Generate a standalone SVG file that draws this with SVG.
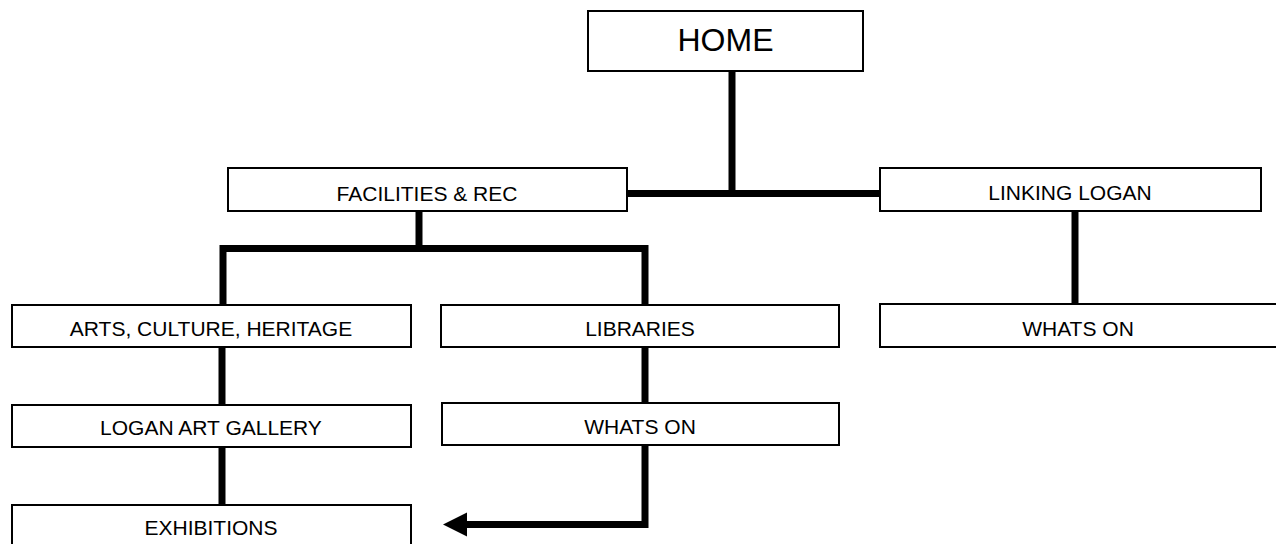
<svg xmlns="http://www.w3.org/2000/svg" width="1276" height="544" viewBox="0 0 1276 544">
<style>
.box{fill:#fff;stroke:#000;stroke-width:2}
.t{font-family:"Liberation Sans",Arial,sans-serif;font-size:21px;fill:#000;text-anchor:middle}
.big{font-size:32px}
.c{fill:none;stroke:#000;stroke-width:7;stroke-linejoin:miter}
</style>
<rect width="1276" height="544" fill="#fff"/>
<g id="connectors">
<path class="c" d="M732,71 V193.5"/>
<path class="c" d="M627,193.5 H880"/>
<path class="c" d="M419,211 V248.5"/>
<path class="c" d="M223,305 V248.5 H645 V305"/>
<path class="c" d="M1075,211 V305"/>
<path class="c" d="M222,347 V405"/>
<path class="c" d="M222,447 V505"/>
<path class="c" d="M645,347 V403"/>
<path class="c" d="M645,445 V524.5 H465"/>
<polygon points="443,524.5 467,512.5 467,536.5" fill="#000"/>
</g>
<g id="home"><rect class="box" x="588" y="11" width="275" height="60"/><text class="t big" x="725.5" y="51">HOME</text></g>
<g id="facilities"><rect class="box" x="228" y="168" width="399" height="43"/><text class="t" x="427" y="201">FACILITIES &amp; REC</text></g>
<g id="linking"><rect class="box" x="880" y="168" width="381" height="43"/><text class="t" x="1070" y="200">LINKING LOGAN</text></g>
<g id="arts"><rect class="box" x="12" y="305" width="399" height="42"/><text class="t" x="211" y="336">ARTS, CULTURE, HERITAGE</text></g>
<g id="libraries"><rect class="box" x="441" y="305" width="398" height="42"/><text class="t" x="640" y="336">LIBRARIES</text></g>
<g id="whatson-right"><rect class="box" x="880" y="304" width="400" height="43"/><text class="t" x="1078" y="336">WHATS ON</text></g>
<g id="gallery"><rect class="box" x="12" y="405" width="399" height="42"/><text class="t" x="211" y="435">LOGAN ART GALLERY</text></g>
<g id="whatson-mid"><rect class="box" x="442" y="403" width="397" height="42"/><text class="t" x="640" y="434">WHATS ON</text></g>
<g id="exhibitions"><rect class="box" x="12" y="505" width="399" height="45"/><text class="t" x="211" y="535">EXHIBITIONS</text></g>
</svg>
